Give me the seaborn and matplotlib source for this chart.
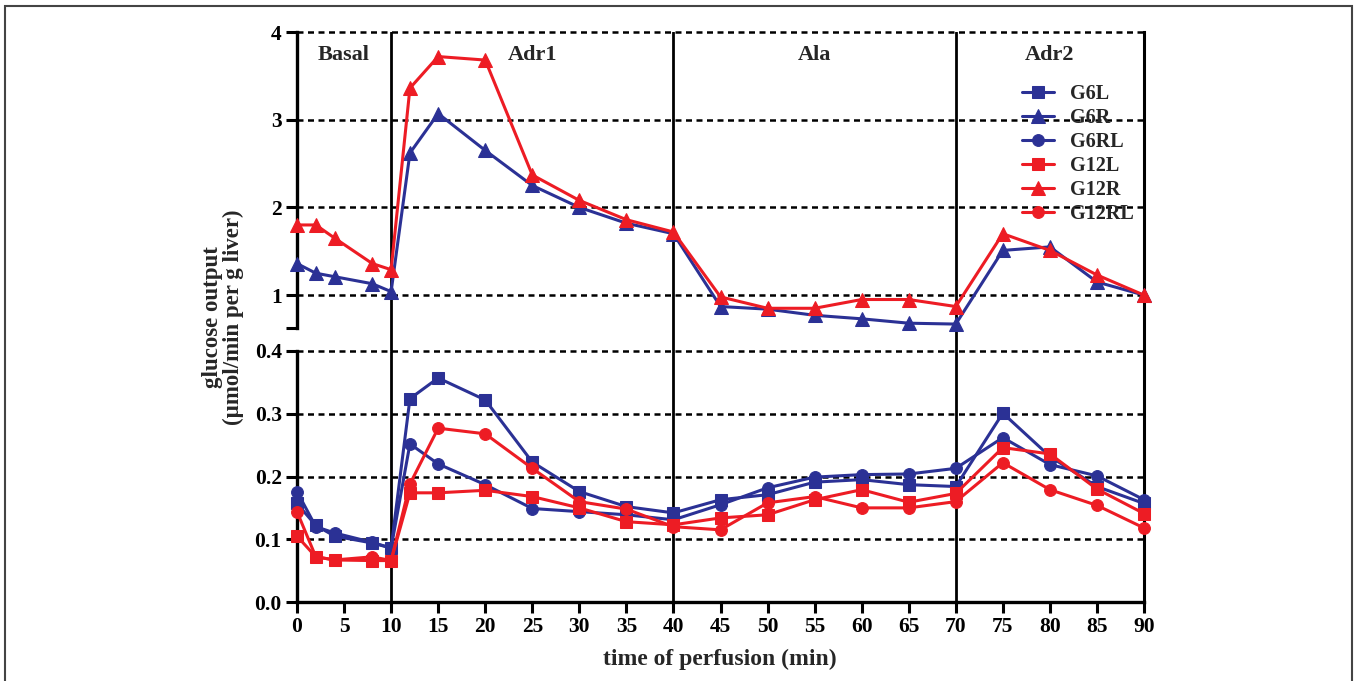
import numpy as np
import pandas as pd
import seaborn as sns
import matplotlib as mpl
from matplotlib import pyplot as plt
from matplotlib.patches import Rectangle

sns.set_style('white')
plt.rcParams['font.family'] = ['Liberation Serif', 'DejaVu Serif']
plt.rcParams['font.weight'] = 'bold'

# time points (min)
time = [0, 2, 4, 8, 10, 12, 15, 20, 25, 30, 35, 40, 45, 50, 55, 60, 65, 70, 75, 80, 85, 90]

# upper panel (triangles)
g6r = [1.36, 1.25, 1.21, 1.13, 1.04, 2.62, 3.07, 2.65, 2.25, 2.00, 1.82, 1.70,
       0.87, 0.84, 0.77, 0.73, 0.68, 0.67, 1.51, 1.55, 1.15, 1.00]
g12r = [1.80, 1.80, 1.65, 1.36, 1.29, 3.36, 3.72, 3.68, 2.37, 2.08, 1.86, 1.72,
        0.98, 0.85, 0.85, 0.95, 0.95, 0.87, 1.70, 1.51, 1.23, 1.00]

# lower panel (squares, circles)
g6l = [0.157, 0.122, 0.105, 0.094, 0.086, 0.324, 0.357, 0.322, 0.223, 0.176, 0.152, 0.142,
       0.163, 0.171, 0.191, 0.195, 0.187, 0.184, 0.301, 0.232, 0.184, 0.157]
g6rl = [0.176, 0.120, 0.110, 0.095, 0.086, 0.252, 0.220, 0.187, 0.149, 0.144, 0.139, 0.131,
        0.155, 0.182, 0.199, 0.203, 0.204, 0.213, 0.262, 0.219, 0.201, 0.163]
g12l = [0.105, 0.072, 0.067, 0.066, 0.066, 0.174, 0.174, 0.178, 0.168, 0.150, 0.128, 0.123,
        0.134, 0.139, 0.163, 0.179, 0.159, 0.173, 0.246, 0.236, 0.180, 0.141]
g12rl = [0.144, 0.072, 0.067, 0.072, 0.066, 0.188, 0.277, 0.268, 0.213, 0.160, 0.148, 0.120,
         0.115, 0.158, 0.168, 0.150, 0.150, 0.160, 0.222, 0.179, 0.154, 0.118]

phases = ['Basal', 'Adr1', 'Ala', 'Adr2']
phase_bounds = [0, 10, 40, 70, 90]

BLUE = '#2b3195'
RED = '#ed1c24'

W, H = 1354, 681
fig = plt.figure(figsize=(W / 100, H / 100), dpi=100)

def px_box(x0, y0, x1, y1):
    return [x0 / W, 1 - y1 / H, (x1 - x0) / W, (y1 - y0) / H]

ax_top = fig.add_axes(px_box(297, 32, 1144, 351))
ax_bot = fig.add_axes(px_box(297, 351, 1144, 602))

TS = 15.5  # tick font size

series = [
    ('G6L', g6l, BLUE, 's', ax_bot, 8.5),
    ('G6R', g6r, BLUE, '^', ax_top, 9.5),
    ('G6RL', g6rl, BLUE, 'o', ax_bot, 8.5),
    ('G12L', g12l, RED, 's', ax_bot, 8.5),
    ('G12R', g12r, RED, '^', ax_top, 9.5),
    ('G12RL', g12rl, RED, 'o', ax_bot, 8.5),
]

handles = []
for name, vals, col, mk, ax, ms in series:
    df = pd.DataFrame({'t': time, 'v': vals})
    n_before = len(ax.lines)
    sns.lineplot(data=df, x='t', y='v', ax=ax, color=col, marker=mk, markersize=ms,
                 markeredgecolor=col, linewidth=2.2, clip_on=False, zorder=5, label=name)
    handles.append(ax.lines[n_before])
for ax in (ax_top, ax_bot):
    if ax.get_legend() is not None:
        ax.get_legend().remove()

for ax in (ax_top, ax_bot):
    ax.set_xlim(0, 90)
    for b in phase_bounds[1:-1]:
        ax.axvline(b, color='black', lw=2.0, zorder=2)
    ax.set_xlabel('')
    ax.set_ylabel('')
    ax.spines['top'].set_visible(False)
    ax.spines['left'].set_linewidth(2.4)
    ax.spines['right'].set_linewidth(2.2)
    ax.spines['bottom'].set_linewidth(2.4)
    for s in ax.spines.values():
        s.set_color('black')
    ax.tick_params(axis='y', direction='out', length=8, width=2.2, left=True,
                   labelsize=TS, pad=3, colors='black')

# upper panel
ax_top.set_ylim(0.363, 4)
ax_top.spines['bottom'].set_visible(False)
ax_top.spines['left'].set_bounds(0.625, 4)
ax_top.set_yticks([0.625, 1, 2, 3, 4])
ax_top.set_yticklabels(['', '1', '2', '3', '4'])
ax_top.set_xticks([])
for yv in [1, 2, 3, 4]:
    ax_top.axhline(yv, color='black', lw=1.8, ls=(0, (2.4, 1.8)), zorder=1, clip_on=False)

# lower panel
ax_bot.set_ylim(0, 0.4)
ax_bot.set_yticks([0.0, 0.1, 0.2, 0.3, 0.4])
ax_bot.set_yticklabels(['0.0', '0.1', '0.2', '0.3', '0.4'])
ax_bot.set_xticks(np.arange(0, 91, 5))
ax_bot.tick_params(axis='x', direction='out', length=8, width=2.2, bottom=True,
                   labelsize=TS, pad=3, colors='black')
for yv in [0.1, 0.2, 0.3, 0.4]:
    ax_bot.axhline(yv, color='black', lw=1.8, ls=(0, (2.4, 1.8)), zorder=1, clip_on=False)

for lab in ax_top.get_yticklabels() + ax_bot.get_yticklabels() + ax_bot.get_xticklabels():
    lab.set_fontweight('bold')

# phase labels
for name, a, b in zip(phases, phase_bounds[:-1], phase_bounds[1:]):
    ax_top.text((a + b) / 2, 3.74, name, ha='center', va='center',
                fontsize=16, fontweight='bold')

# legend
order = ['G6L', 'G6R', 'G6RL', 'G12L', 'G12R', 'G12RL']
fig.legend(handles, order, loc='upper left', bbox_to_anchor=(1022 / W, 1 - 84 / H),
           frameon=False, handlelength=1.6, handletextpad=0.8,
           labelspacing=0.2, borderpad=0, borderaxespad=0,
           prop={'weight': 'bold', 'size': 14.5})

# axis titles
fig.text(223 / W, 1 - 317 / H, 'glucose output\n(µmol/min per g liver)', rotation=90,
         ha='center', va='center', fontsize=16.5, fontweight='bold', linespacing=1.0)
fig.text(720 / W, 1 - 659 / H, 'time of perfusion (min)', ha='center', va='center',
         fontsize=17, fontweight='bold')

# outer frame
fig.patches.append(Rectangle((5 / W, -0.05), (1352 - 5) / W, 1.05 - 6 / H,
                             transform=fig.transFigure, fill=False,
                             edgecolor='#444444', lw=1.5))

fig.savefig('out.png', dpi=100)
